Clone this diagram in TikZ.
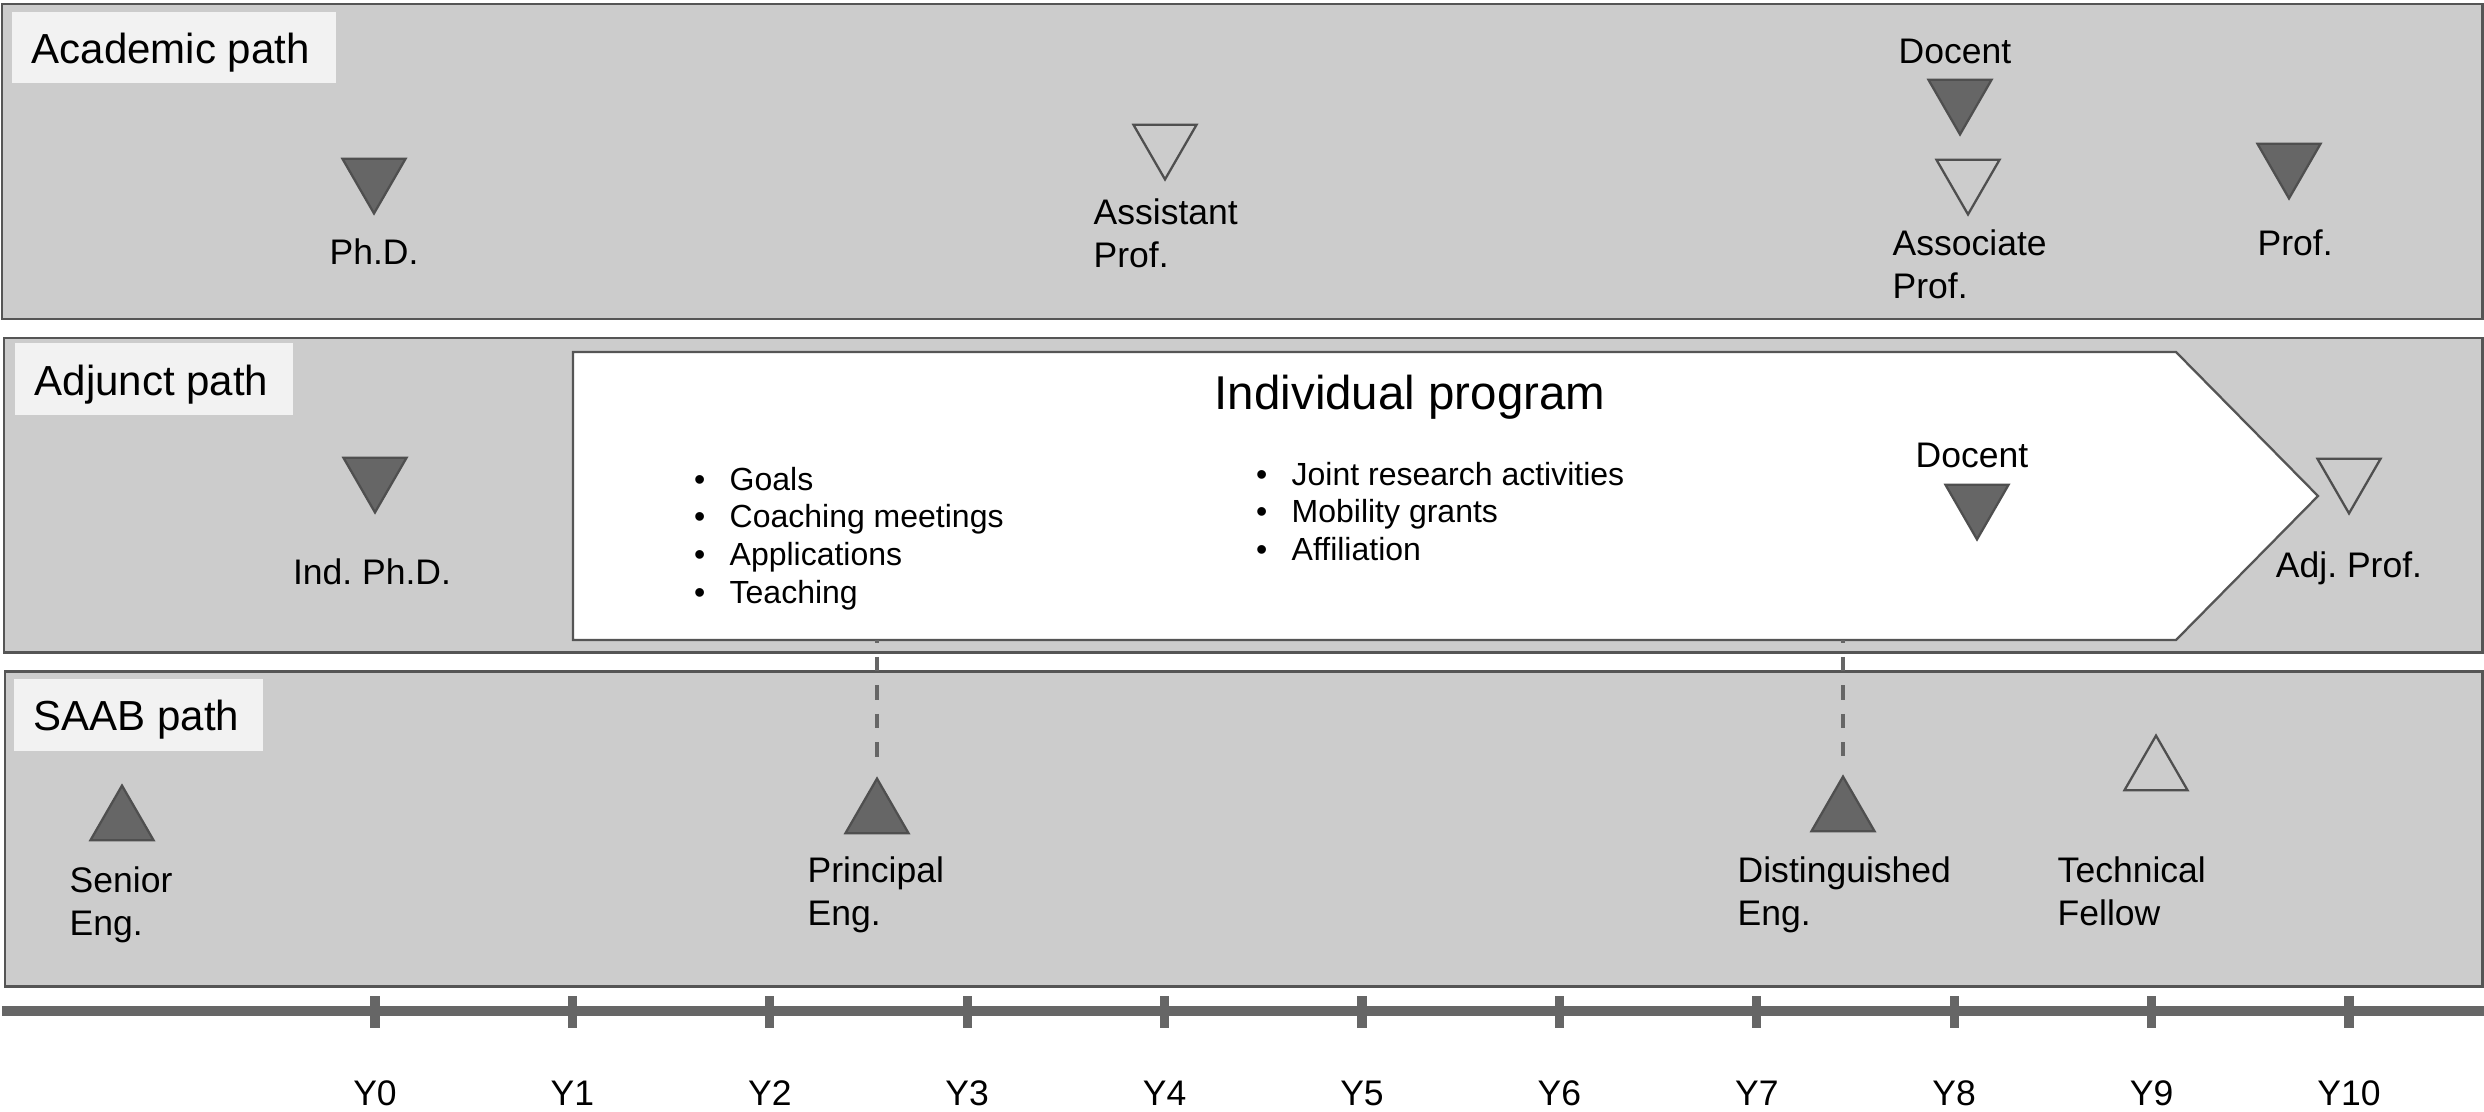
\documentclass[tikz,border=0pt]{standalone}
\usepackage{fontspec}
\setmainfont{Liberation Sans}
\usetikzlibrary{shapes.geometric}
\frenchspacing

\definecolor{panelfill}{HTML}{CCCCCC}
\definecolor{panelline}{HTML}{555555}
\definecolor{tagfill}{HTML}{F2F2F2}
\definecolor{markdark}{HTML}{666666}
\definecolor{markline}{HTML}{4F4F4F}
\definecolor{axisgray}{HTML}{666666}

\begin{document}
\begin{tikzpicture}[x=0.01cm,y=-0.01cm,
  panel/.style={draw=panelline,fill=panelfill,line width=0.85pt},
  tagbg/.style={fill=tagfill},
  pathtitle/.style={anchor=base west,inner sep=0pt,font=\fontsize{11.95pt}{14pt}\selectfont},
  lbl/.style={inner sep=0pt,font=\fontsize{10.1pt}{12.5pt}\selectfont},
  tri/.style={regular polygon,regular polygon sides=3,minimum size=0.7275cm,
    inner sep=0pt,outer sep=0pt,draw=markline,line width=0.65pt},
  downtri/.style={tri,rotate=180},
  solidmark/.style={fill=markdark},
  openmark/.style={fill=none},
  progbox/.style={draw=panelline,fill=white,line width=0.65pt},
  bullets/.style={anchor=base west,inner sep=0pt,font=\fontsize{9.1pt}{10.8pt}\selectfont},
  link/.style={draw=axisgray,line width=0.9pt,dash pattern=on 4.1pt off 4.0pt,dash phase=3.3pt},
  axis/.style={draw=axisgray,line width=2.6pt},
  tick/.style={draw=axisgray,line width=2.6pt},
]
\useasboundingbox (0,0) rectangle (2484,1112);
\fill[white] (0,0) rectangle (2484,1112);

% ---------- three career lanes ----------
\draw[panel] (2,4) rectangle (2482,319);
\draw[panel] (4,338) rectangle (2482,652);
\draw[panel] (5,671) rectangle (2482,986);

\fill[tagbg] (12,12) rectangle (336,83);
\fill[tagbg] (15,343) rectangle (293,415);
\fill[tagbg] (14,679) rectangle (263,751);

\node[pathtitle] (acad-title) at (31,63) {Academic path};
\node[pathtitle] (adj-title) at (34,395) {Adjunct path};
\node[pathtitle] (saab-title) at (33,730) {SAAB path};

% ---------- individual program arrow ----------
\draw[progbox] (573,352) -- (2176,352) -- (2318,496) -- (2176,640) -- (573,640) -- cycle;
\coordinate (prog-sw) at (573,640);
\node[anchor=base,inner sep=0pt,font=\fontsize{13.5pt}{16pt}\selectfont] (prog-title) at (1410,409) {Individual program};
\node[bullets] (prog-left) at (693.5,490)
  {\begin{tabular}[t]{@{}l@{\hspace{6.9pt}}l@{}}
   \textbullet & Goals\\
   \textbullet & Coaching meetings\\
   \textbullet & Applications\\
   \textbullet & Teaching
   \end{tabular}};
\node[bullets] (prog-right) at (1255.5,485)
  {\begin{tabular}[t]{@{}l@{\hspace{6.9pt}}l@{}}
   \textbullet & Joint research activities\\
   \textbullet & Mobility grants\\
   \textbullet & Affiliation
   \end{tabular}};

% ---------- academic milestones ----------
\node[downtri,solidmark] (phd) at (374,177) {};
\node[lbl,anchor=base] (phd-l) at (374,264) {Ph.D.};

\node[downtri,openmark] (asst) at (1165,143) {};
\node[lbl,anchor=base west] (asst-l) at (1093,224)
  {\begin{tabular}[t]{@{}l@{}}Assistant\\Prof.\end{tabular}};

\node[lbl,anchor=base] (doc-l) at (1955,63) {Docent};
\node[downtri,solidmark] (doc) at (1960,98) {};

\node[downtri,openmark] (assoc) at (1968,178) {};
\node[lbl,anchor=base west] (assoc-l) at (1892,255)
  {\begin{tabular}[t]{@{}l@{}}Associate\\Prof.\end{tabular}};

\node[downtri,solidmark] (prof) at (2289,162) {};
\node[lbl,anchor=base west] (prof-l) at (2257,255) {Prof.};

% ---------- adjunct milestones ----------
\node[downtri,solidmark] (indphd) at (375,476) {};
\node[lbl,anchor=base] (indphd-l) at (372,584) {Ind. Ph.D.};

\node[lbl,anchor=base] (adoc-l) at (1972,467) {Docent};
\node[downtri,solidmark] (adoc) at (1977,503) {};

\node[downtri,openmark] (adjprof) at (2349,477) {};
\node[lbl,anchor=base] (adjprof-l) at (2349,577) {Adj. Prof.};

% ---------- SAAB milestones ----------
\node[tri,solidmark] (senior) at (122,822) {};
\node[lbl,anchor=base west] (senior-l) at (69,892)
  {\begin{tabular}[t]{@{}l@{}}Senior\\Eng.\end{tabular}};

\node[tri,solidmark] (princ) at (877,815) {};
\node[lbl,anchor=base west] (princ-l) at (807,882)
  {\begin{tabular}[t]{@{}l@{}}Principal\\Eng.\end{tabular}};

\node[tri,solidmark] (dist) at (1843,813) {};
\node[lbl,anchor=base west] (dist-l) at (1737,882)
  {\begin{tabular}[t]{@{}l@{}}Distinguished\\Eng.\end{tabular}};

\node[tri,openmark] (fellow) at (2156,772) {};
\node[lbl,anchor=base west] (fellow-l) at (2057,882)
  {\begin{tabular}[t]{@{}l@{}}Technical\\Fellow\end{tabular}};

% ---------- links from the program to SAAB levels ----------
\draw[link,shorten >=0.21cm] (prog-sw -| princ.north) -- (princ.north);
\draw[link,shorten >=0.21cm] (prog-sw -| dist.north) -- (dist.north);

% ---------- time axis ----------
\coordinate (axis-start) at (2,1011);
\coordinate (axis-end) at (2484,1011);
\draw[axis] (axis-start) -- (axis-end);
\foreach \k in {0,...,10} {
  \pgfmathsetmacro{\tx}{375+197.4*\k}
  \draw[tick] (\tx,996) -- (\tx,1028);
  \node[lbl,anchor=base] (year-\k) at (\tx,1105) {Y\k};
}
\end{tikzpicture}
\end{document}
